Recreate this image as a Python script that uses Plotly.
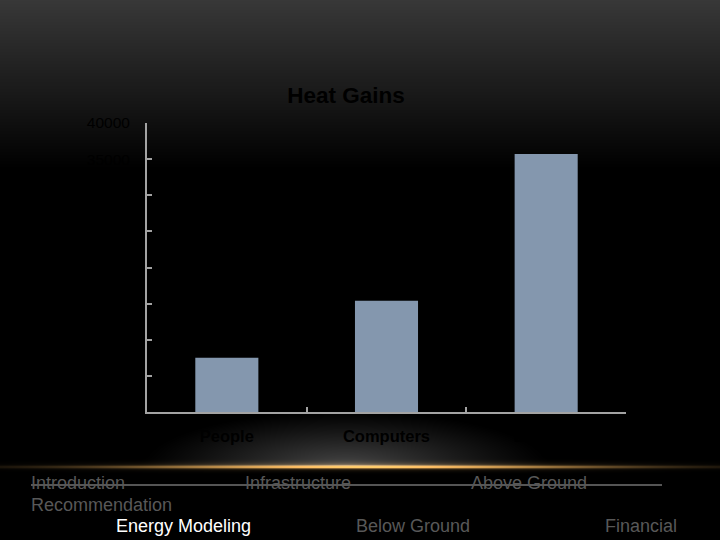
import base64, struct, zlib
import numpy as np
import plotly.graph_objects as go

# ---- data ----
categories = ["People", "Computers", "Lighting"]
values = [7500, 15400, 35700]
y_ticks = [0, 5000, 10000, 15000, 20000, 25000, 30000, 35000, 40000]
nav_row1 = ["Introduction", "Infrastructure", "Above Ground"]
nav_row2 = ["Recommendation"]
nav_row3 = ["Energy Modeling", "Below Ground", "Financial"]

W, H = 720, 540
L, R, T, B = 147, 626, 123, 412
PW, PH = R - L, B - T


def px(x):
    return (x - L) / PW


def py(y):
    return (B - y) / PH


# ---- background picture (decoration only) ----
yy, xx = np.mgrid[0:H, 0:W].astype(float)
base = np.clip(56 * (1 - yy / 170), 0, None)
r = np.sqrt(((xx - 345) / 205) ** 2 + ((466 - yy) / 56) ** 2)
glow = 70 * np.clip(1 - r, 0, None) ** 1.15 * (yy < 466)
gx = np.exp(-((xx - 365) / 240) ** 2)
gy = np.exp(-((yy - 466.5) / 1.5) ** 2)
halo = np.exp(-((yy - 466) / 4) ** 2) * 0.25
gold = gx * (gy + halo)
img = np.stack([base + glow + gold * 240,
                base + glow + gold * 180,
                base + glow + gold * 95], axis=-1)
img = np.clip(img, 0, 255).astype(np.uint8)


def png_uri(a):
    h, w, _ = a.shape
    raw = b"".join(b"\x00" + a[i].tobytes() for i in range(h))

    def chunk(t, d):
        c = struct.pack(">I", len(d)) + t + d
        return c + struct.pack(">I", zlib.crc32(t + d) & 0xFFFFFFFF)

    data = (b"\x89PNG\r\n\x1a\n" + chunk(b"IHDR", struct.pack(">IIBBBBB", w, h, 8, 2, 0, 0, 0))
            + chunk(b"IDAT", zlib.compress(raw, 9)) + chunk(b"IEND", b""))
    return "data:image/png;base64," + base64.b64encode(data).decode()


fig = go.Figure(go.Bar(x=categories, y=values, marker=dict(color="#8497ae", line_width=0),
                       hoverinfo="skip"))

fig.update_layout(
    width=W, height=H,
    margin=dict(l=L, r=W - R, t=T, b=H - B),
    paper_bgcolor="black", plot_bgcolor="rgba(0,0,0,0)",
    bargap=0.605, showlegend=False,
    font=dict(family="Liberation Sans, Arial, sans-serif"),
    images=[dict(source=png_uri(img), xref="paper", yref="paper",
                 x=px(0), y=py(0), sizex=W / PW, sizey=H / PH,
                 xanchor="left", yanchor="top", sizing="stretch", layer="below")],
    title=dict(text="<b>Heat Gains</b>", xref="container", yref="container",
               x=346 / W, y=1 - 95 / H, xanchor="center", yanchor="middle",
               font=dict(size=22.5, color="black")),
)

fig.update_yaxes(range=[0, 40000], tickvals=y_ticks, ticktext=[str(v) for v in y_ticks],
                 showgrid=False, zeroline=False, showline=True, linecolor="#a3a3a3", linewidth=2,
                 ticks="inside", ticklen=5, tickwidth=2, tickcolor="#a3a3a3",
                 tickfont=dict(size=15.5, color="#000000"), ticklabelstandoff=12)
fig.update_xaxes(showgrid=False, showline=True, linecolor="#a3a3a3", linewidth=2,
                 ticks="inside", ticklen=5, tickwidth=2, tickcolor="#a3a3a3", tickson="boundaries",
                 tickfont=dict(size=16.5, color="black", family="Liberation Sans, Arial, sans-serif"),
                 tickprefix="<b>", ticksuffix="</b>", ticklabelstandoff=8)

# navigation text
anns = []
row1_x = [29, 243, 469]
for t, x in zip(nav_row1, row1_x):
    anns.append(dict(text=t, x=px(x), y=py(483), color="#585858"))
anns.append(dict(text=nav_row2[0], x=px(29), y=py(505), color="#585858"))
row3_x = [114, 354, 603]
row3_c = ["#ffffff", "#585858", "#585858"]
for t, x, c in zip(nav_row3, row3_x, row3_c):
    anns.append(dict(text=t, x=px(x), y=py(526), color=c))
fig.update_layout(annotations=[
    dict(text=a["text"], x=a["x"], y=a["y"], xref="paper", yref="paper", showarrow=False,
         xanchor="left", yanchor="middle", font=dict(size=18, color=a["color"])) for a in anns])

fig.add_shape(type="line", xref="paper", yref="paper", x0=px(31), x1=px(662), y0=py(485), y1=py(485),
              line=dict(color="#555555", width=2), layer="above")

fig.write_html("out.html")
